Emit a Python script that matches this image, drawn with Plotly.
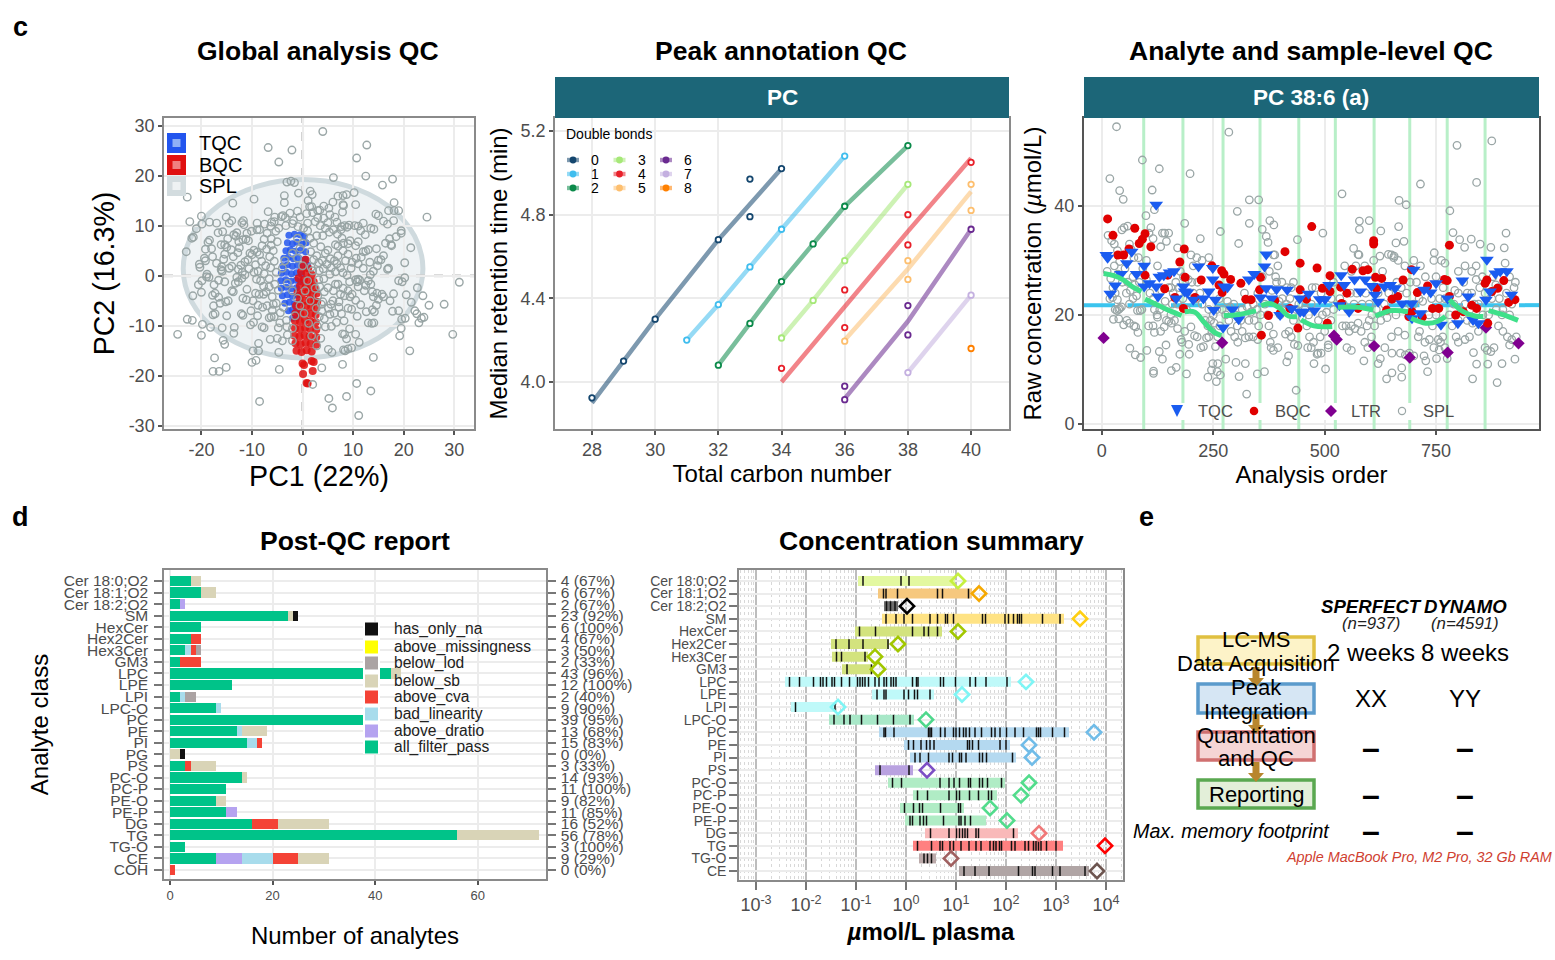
import plotly.graph_objects as go

W, H = 1555, 960
FONT = "Liberation Sans"
GREY = "#4d4d4d"
BORDER = "#8a8a8a"
GRID = "#ececec"

# ---------- Panel c1: PCA ----------
pca_spl = [(4,28.8),(-6.8,25.6),(-2.1,25.1),(-4.7,22.7),(12.7,26.1),(10.7,23.5),(12.5,19.9),(6.1,19.6),(17.8,19.3),(15.8,18.1),(-3.1,18.7),(-2.3,18.9),(-1.6,18.6),(-22.8,15.7),(-9.6,15.3),(-13.8,14.5),(24.6,11.7),(31,-1.3),(29.7,-11.7),(28,-5.7),(25,-5.9),(23.8,-4),(22.7,-2.4),(21.4,5.6),(20.2,2.6),(19.5,8.5),(18.1,14.6),(-24.7,-11.7),(-22.8,-8.7),(-21.8,-8.9),(-20,-11.9),(-19.8,-9.7),(-18.2,-10.3),(-17.4,-16.4),(-17.7,-19.1),(-16.5,-19.1),(-15.1,-18.3),(-10,-17.3),(-9.2,-16.9),(-8.5,-25.1),(-4.6,-18.7),(3.8,-18.4),(7.9,-17.7),(2,-21.7),(10.7,-21.5),(13.5,-23),(8.7,-24.1),(5.2,-24.5),(5.9,-26.4),(11.1,-27.9),(14,-16.3),(21.2,-15),(23,-9.4),(19.2,-12),(19.5,-10.5),(-15.7,-12.9),(-15.4,-13.7),(-13.6,-11.5),(-8.7,-13.5),(-9.8,-15),(-8.7,-15),(-4.7,-15.3),(5.1,-14.7),(5.8,-15.3),(8.4,-15),(9.7,-14.4),(11.2,-13.3),(10.5,-11.7),
(-22.3,10.8),(-21,9.4),(-20,11.9),(-19.9,10.3),(-18.4,10.7),(-17,10.5),(-16.7,8.6),(-15.1,11.7),(-14.5,10.5),(-14,11),(-15.8,8.8),(-14.8,7.4),(-13.6,8.2),(-13.2,7.9),(-13,8.6),(-12.6,6.8),(-11.8,7.2),(-11.2,7.3),(-10.7,7),(-21.9,7.5),(-21.6,7.7),(-18.7,6.7),(-18.4,7.1),(-23,4.8),(-16.1,6.2),(-15.4,6.2),(-15,5.7),(-14.1,5.2),(-12.8,4.6),(-13.7,3.8),(-15.4,4.3),(-17.8,3.8),(-19.4,3.5),(-19.2,3),(-20.4,2.3),(-20.3,1.7),(-16,1.8),(-16.1,1.2),(-15.9,0.9),(-14.5,1.5),(-14,1.9),(-12.7,1.3),(-12.2,2.1),(-11.4,2.8),(-10.8,3.2),(-10.4,4.5),(-10,4.2),(-9.6,5.1),(-9,4.7),(-8.5,4.2),(-8,6),(-7.6,7.3),(-10.1,8.9),(-9,9.2),(-8.5,9.2),(-11.7,11),(-11.6,10.2),(-12,10.6),(-6.8,12.8),(-5.5,11.7),(-4.2,11.8),(-3.9,12),(-3.4,11.6),(-2.5,12.5),(-1.8,11),(-1,12.9),(-0.5,11.7),(0.8,12.4),
(-18.9,0.3),(-18.5,-0.3),(-19,-0.2),(-20.6,-1.8),(-19.9,-1),(-20,-3.3),(-21.7,-4),(-17.5,-1.8),(-17.3,-3.5),(-17.8,-3.9),(-16.6,-4.3),(-16.3,-5.5),(-17.6,-6),(-17.3,-7.6),(-17.7,-7.8),(-15,-8),(-14.7,-5),(-15.2,-5.2),(-14,-3),(-13.7,-3.2),(-13,-0.3),(-12.7,-1.2),(-12,-0.5),(-11.4,0.2),(-10.6,1.4),(-9.6,0.7),(-9.1,-0.7),(-8.3,-1),(-7.6,0.4),(-11,-2.7),(-11.8,-4.5),(-11.1,-4.8),(-9.8,-5),(-9.3,-3.5),(-8.6,-3.7),(-7.7,-3.7),(-7.2,-3.2),(-6,-4.2),(-5.8,-5.7),(-5.2,-5.5),(-12.1,-7.6),(-11.8,-7.9),(-10.3,-9.8),(-9.7,-9.3),(-8.9,-8),(-8,-10.2),(-7.6,-10.4),(-6.6,-8.4),(-6.2,-8.2),(-5.6,-8.2),(-4.5,-9.4),(-4.8,-10.4),(-15.9,-10.4),(-13.5,-10.3),(-6.4,-12.7),(-5,-12.5),(-4,-13),(-3,-11.8),(-2,-13),
(-3.6,16),(-3.6,14.6),(-0.8,16.5),(1.5,16.9),(1.9,16.2),(1.1,15),(1.4,13.8),(1.8,13.8),(3,13),(3.4,13.1),(4.2,13.9),(5.2,13.5),(6,14.7),(7,15.9),(8,16),(8.7,16.2),(10.2,16.6),(8,14.2),(8.1,14),(10.5,14.2),(7.9,12.7),(5.4,12.2),(6.4,11.7),(-5.3,8.9),(-6.2,7.4),(-5,6.8),(-5.8,5),(-6.5,3.8),(-4.7,9.5),(-3.3,10),(-2,10.4),(-0.9,9.8),(1,10.5),(2.5,10.8),(3.5,10),(4.5,9.5),(5.3,8.7),(4,8),(2.8,8),(1.5,7.5),
(7.7,9.8),(8.3,10),(7.6,9.2),(8.8,9.7),(9.2,10.1),(10.3,10),(11,9.9),(11.5,9),(12.4,8.2),(12,10.5),(13.5,9.5),(14.1,9.3),(15,12),(14.5,12.3),(16,10.9),(16.8,10.3),(18,11),(19,13),(17,13),(18.1,13),(19.5,9),(17.2,7.4),(18.5,7.8),(16.4,6.5),(17.5,6.2),(17.6,6),(14.6,5.4),(16,4),(15.5,3.2),(15,3.1),(17,1.5),(16.8,1.3),(12.5,4.9),(12,4.8),(13,5.2),(10.5,6),(11,6.8),(9.4,7),(9,6.4),(8.1,6.5),(7,5.9),(6.5,6.2),(5,5.1),(4.5,4.5),(5.5,3.4),(6.3,3),(7,4),(8.5,3),(9.8,2.7),(9.6,1.5),(7.5,1.6),(6.5,0.8),(5.4,0.3),(4.2,-0.6),(3.3,1),(3.2,2.6),(2.8,4),(1.6,4.8),(1.7,1.7),(10.5,-0.8),(11,-0.7),(10.8,-1.2),(11.3,-0.9),(13.4,0.2),(13,-1),(13.5,-1.7),(13.8,-3.2),(14.7,-3.5),(14,-4.2),(15,-4.7),(15.7,-3.7),(16,-4.2),(17.3,-5),(18,-3.6),(19,-1),(19.7,-1.2),(20.2,-0.4),(20.5,-3.8),(21.5,-5.3),(22.2,-7),(22.6,-7.6),(23.5,-8.5),(24,-8.3),
(6.5,-1.7),(7,-1.7),(8,-2.5),(9,-3),(7.5,-3.7),(8.3,-4),(9.4,-4.2),(9.8,-3.7),(11,-2.2),(10.5,-4.9),(7.2,-5.2),(6,-5),(5.6,-5.7),(4,-5.2),(3.7,-5.7),(3.8,-7),(5.4,-7.7),(6.3,-7.5),(7.7,-7.6),(9,-6.5),(9.7,-6.7),(12.6,-7.2),(13.8,-6.8),(14.2,-7.2),(14.6,-5.9),(17.8,-7.1),(19,-7),(20.3,-8.5),(19.6,-8.7),(13,-9.4),(13.7,-9.5),(14.1,-9.4),(4.5,-10.2),(5.7,-10.1),(9.3,-10.6),(7.9,-11.6),(8.3,-11.7),(8.7,-12.6),(3.6,-12.5),(1.8,-12),(2.8,-14),(8.1,-14.8),(9,-14.6),
(-1,7.5),(0,6.5),(-0.5,5.5),(-2,4.5),(-1,3.5),(-3.5,3),(-4,1.5),(-3,-1.5),(-2,-3),(-1,-4.5),(-0.5,-6),(0.5,-3),(1,-1),(0,2),(2,1),(2.5,-2.5),(1.5,-5),(3,-4),(0.3,-7.5),(-1.5,-8),(1.2,-9.5),
(-9,10.5),(-7.5,10.3),(-6.3,9.9),(-5.6,10.8),(-7,8.5),(-6.2,6.1),(-7.1,5.3),(-8.1,2.9),(-7.3,2),(-6.3,1.6),(-5.6,2.9),(-5.2,0.7),(-6.6,-0.6),(-5.5,-1.7),(-4.8,-2.9),(-6.6,-2.2),(-3.8,-6.3),(-4.4,-7.4),(-3.2,-8.9),(-3.1,-10.2),(-2,-10.5),(3.2,-0.8),(4.1,1.4),(4.8,2.3),(5.7,1.6),(6.8,2.4),(8,0.6),(8.8,0.1),(9.3,-1.2),(6.1,-3),(5,-2.4),(4.3,-3.2),(3.4,-2.2),(2.7,-6.5),(3.3,-8.2),(2.9,-10),(4.3,-8.6),(5.1,-6.5),(6.7,-9.3),(7.2,-6.3),(8.2,-9),(10.8,-8.1),(11.5,-5.8),(12.2,-3),(12.5,-1.9),(12,1.5),(11,2.4),(10.6,3.5),(11.6,3.7),(13.3,2.7),(14,0.9),(14.8,2),(9,4.3),(8,5),(7.8,7.5),(6.9,8.3),(6.1,9.2),(6.8,10.7),(5,10.6),(4.2,11.5),(3,11.6),(2,12.6),(1,9),(0.2,9.5),(2.2,6.5),(3.6,5.8),(3.9,3),(2.2,3.2),(-11,8.5),(-12.5,5.6),(-11.9,0.7),(-13.3,-1.5),(-15.4,-1.2),(-16.6,-0.9),(-15.6,3.3),(-17,2.5),(-18,5.4),(-19.2,5.3),(-6.1,10.7),(-9.3,2.2),(-8.8,0.9),(-7.7,-2.1),(-8.8,-5.9),(-10.2,-7),(-7.9,-6.3),(-7,-6),(-6,-6.9)]
pca_tqc = [(-2.7,8.1),(-1.6,8.3),(-0.5,8.2),(0.3,7.9),(-3,6.6),(-2,6.4),(-1.1,6.7),(0,6.3),(0.7,6.6),(-3.3,5),(-2.4,5.2),(-1.4,4.9),(-0.4,5.1),(0.6,4.8),(-3.7,3.5),(-2.8,3.7),(-1.8,3.4),(-0.8,3.6),(0.5,3.3),(-3.9,2),(-3,2.2),(-2,1.9),(-1,2.1),(0,1.8),(1,2.1),(-4.2,0.5),(-3.2,0.7),(-2.2,0.4),(-1.2,0.6),(-0.2,0.3),(-4.3,-1),(-3.3,-0.8),(-2.3,-1.1),(-1.3,-0.9),(-0.5,-1.2),(-4.2,-2.5),(-3.2,-2.3),(-2.2,-2.6),(-1.2,-2.4),(-4,-4),(-3,-3.8),(-2,-4.1),(-1,-3.9),(-3.5,-5.5),(-2.6,-5.3),(-1.6,-5.6),(-0.8,-5.4),(-2.8,-7),(-2,-6.8),(-1.2,-7.1),(-2,-8.5),(-1.2,-8.3)]
pca_bqc = [(0.6,3.2),(0.2,2),(1.1,1.5),(-0.3,0.8),(0.8,0.5),(1.8,0.2),(-0.8,-0.5),(0.3,-0.8),(1.3,-1),(2.2,-1.2),(-0.5,-2),(0.6,-2.3),(1.6,-2.1),(2.5,-2.6),(-1,-3.4),(0,-3.6),(1,-3.3),(2,-3.7),(2.8,-3.5),(-0.6,-4.8),(0.4,-5),(1.4,-4.7),(2.3,-5),(2.9,-5.2),(-1.3,-6),(-0.3,-6.3),(0.7,-6),(1.7,-6.2),(2.7,-6.4),(-1.4,-7.5),(-0.4,-7.7),(0.6,-7.4),(1.6,-7.6),(2.6,-7.8),(-1.5,-9),(-0.5,-9.2),(0.5,-8.9),(1.5,-9.1),(2.6,-9.3),(-1.5,-10.5),(-0.5,-10.7),(0.5,-10.4),(1.5,-10.6),(2.7,-10.8),(-1.6,-12),(-0.6,-12.2),(0.4,-11.9),(1.4,-12.1),(2.7,-12.3),(-1.4,-13.5),(-0.4,-13.7),(0.6,-13.4),(1.6,-13.6),(2.7,-13.8),(-1.2,-15),(-0.2,-15.2),(0.8,-14.9),(1.8,-15.1),(0,-17.5),(0.3,-17.8),(1.8,-17),(2.2,-17.2),(0.1,-19.6),(2,-19),(1,-21.5),(0.8,-21.4)]
pca_xticks = [-20, -10, 0, 10, 20, 30]
pca_yticks = [-30, -20, -10, 0, 10, 20, 30]

# ---------- Panel c2: retention time ----------
db_names = ["0", "1", "2", "3", "4", "5", "6", "7", "8"]
db_colors = ["#14466e", "#3fbdee", "#0b8a4a", "#a6e878", "#e8202a", "#fdbf6f", "#6a2a90", "#c4b0e0", "#ff8000"]
db_line_x = [[28,29,30,32,33,34],[31,32,33,34,36],[32,33,34,35,36,38],[34,35,36,38],[34,36,38,40],[36,38,40],[36,38,40],[38,40],[]]
db_line_y = [[3.9,4.1,4.3,4.68,4.85,5.02],[4.2,4.37,4.55,4.73,5.08],[4.08,4.28,4.48,4.66,4.84,5.13],[4.21,4.39,4.58,4.945],[4.0,4.36,4.72,5.07],[4.2,4.54,4.91],[3.92,4.29,4.73],[4.045,4.415],[]]
db_pt_x = [[28,29,30,32,33,33,34],[31,32,33,34,36],[32,33,34,35,36,38],[34,35,36,38],[34,36,36,38,38,40],[36,38,38,40,40],[36,36,38,38,40],[38,40],[40]]
db_pt_y = [[3.924,4.10,4.30,4.68,4.97,4.79,5.02],[4.2,4.37,4.55,4.73,5.08],[4.08,4.28,4.48,4.66,4.84,5.13],[4.21,4.39,4.58,4.945],[4.065,4.44,4.26,4.80,4.655,5.05],[4.195,4.58,4.49,4.945,4.82],[3.98,3.915,4.365,4.225,4.73],[4.045,4.415],[4.16]]
rt_xticks = [28, 30, 32, 34, 36, 38, 40]
rt_yticks = [4.0, 4.4, 4.8, 5.2]

# ---------- Panel c3: run sequence ----------
seq_tqc = [(10,31),(13,30.5),(19,23.9),(30,25.4),(43,27.5),(56,29.5),(67,31.6),(78,27.5),(95,29),(95,25.2),(107,25.8),(122,40.2),(122,25.2),(126,23.4),(129,27),(139,27.3),(152,27.8),(162,28),(167,23),(183,25.2),(186,24.3),(192,24.1),(205,22.8),(217,28.9),(228,23),(240,24.3),(249,28.6),(249,26.5),(251,20.9),(255,22.8),(272,17.7),(274,25.2),(282,25.1),(293,21),(307,19.2),(330,26.5),(342,27.5),(356,23.2),(365,28.9),(369,31.1),(369,24.9),(381,23),(392,24.7),(400,20),(416,24.6),(426,21.2),(444,23),(445,20.6),(453,20.6),(464,23.9),(477,20.8),(489,22.9),(501,22.9),(510,25.5),(533,21.8),(537,27.3),(544,25.5),(555,20.6),(567,26.5),(580,24.3),(591,26.5),(605,25.3),(613,23.7),(620,22.4),(634,25.2),(647,25.5),(658,24.9),(674,22.1),(695,22.1),(696,19.4),(700,28.3),(715,20.3),(723,24.6),(738,24.1),(750,25.8),(761,18.2),(776,23),(799,18.5),(809,26.3),(822,23.4),(833,19.1),(845,18.5),(862,22.8),(864,30.1),(871,24.3),(883,27.6),(894,28),(909,28),(919,23.7)]
seq_bqc = [(13,37.6),(25,34.6),(36,31),(49,31),(61,32.1),(74,35.9),(84,33.1),(91,33.9),(97,34.9),(97,27.3),(110,32.5),(141,24.8),(148,27.3),(164,23.2),(175,29.7),(185,32.1),(187,26.9),(183,21.2),(209,23.2),(223,26.4),(247,29),(263,25.5),(269,28.1),(274,27.5),(270,24.1),(289,26.5),(312,25.8),(323,22.9),(335,22.8),(356,26.9),(354,24.6),(358,16.3),(374,19.9),(388,22.6),(400,20.3),(411,31.6),(422,21.2),(440,17.6),(445,29.5),(445,24.6),(459,22.9),(471,36.2),(483,28.6),(495,24.9),(506,18.5),(512,27.2),(512,24.3),(536,25.1),(538,22.1),(550,24),(562,28.4),(575,21.2),(586,28.1),(597,28.3),(610,33.6),(610,33),(614,26.9),(616,24.9),(628,26.7),(639,20.9),(651,22.9),(664,23.4),(676,26.4),(689,19.7),(696,20.6),(695,28.3),(708,24.1),(719,19.6),(731,25.3),(742,21.2),(756,21.2),(769,26.5),(775,26.3),(780,32.8),(780,23.4),(794,20),(811,20.6),(830,21.8),(841,21.2),(860,25.8),(864,26.4),(866,18.5),(875,24.3),(888,24.9),(902,26.3),(913,22.3),(927,22.8)]
seq_ltr = [(4,15.8),(270,14.9),(521,16.2),(527,15.5),(611,14.3),(691,12.2),(776,13.1),(862,17.7),(935,14.8)]
seq_spl = [(33,54.5),(91,48.4),(18,45),(129,46.8),(198,45.9),(40,42.8),(113,42.9),(48,41.2),(99,38.2),(118,39.3),(285,53.5),(331,41.1),(352,41.1),(304,39),(331,36.8),(377,37.3),(386,36.5),(539,42.2),(667,41),(683,40.2),(715,44),(797,51.1),(875,51.9),(841,44.3),(781,39.1),(578,37.2),(600,37.3),(788,35.1),(907,35),(496,35),(666,36.2),(626,35.4),(578,35.7),(266,35.3),(186,36.8),(221,34),(439,33.8),(360,35.7),(369,34.4),(373,33.3),(307,33.1),(678,33.5),(660,33.2),(803,33.8),(829,33.9),(849,33),(814,32.4),(873,32.4),(903,32.3),(565,32.2),(575,31.1),(577,31),(746,31.4),(643,31.1),(656,30.8),(624,30.8),
(436,6.2),(325,5.5),(887,7.6),(832,8.3),(639,8.3),(673,8.6),(308,8.7),(238,8.6),(257,7.8),(349,9.2),(365,9.6),(190,9.2),(116,9.7),(116,9.3),(156,9.8),(167,10.4),(502,10.1),(651,9.4),(673,10.3),(731,9.6),(866,11),(898,11.1),(841,11),(476,11.1),(415,11.4),(588,11.6),(620,11.1),(727,11.6),(751,12),(278,11.9),(301,11.3),(322,11.1),(927,11.9),(87,12.2),(75,12.7),(63,13.9),(101,13.5),(129,13.3),(175,12.8),(196,12.8),(136,11.9),(249,11.1),(260,11.1),(246,9.9),(259,9.6),(266,9),(483,12.8),(419,12.5),(651,13),(834,13.1),(873,13.3),(670,13),(681,12.7),(723,12.5),(757,13.6),
(14,34.6),(22,33.6),(28,33),(35,31.8),(40,29.8),(45,35.6),(50,36),(58,36.3),(62,33),(66,32),(72,30.5),(82,30.5),(20,26.7),(25,25),(30,24),(18,23),(24,23.2),(35,22.8),(40,21.2),(44,21.5),(30,21),(34,20.8),(38,21),(26,19.2),(38,19.3),(49,18.2),(56,19),(62,18.5),(72,18),(76,17.8),(81,16.8),(55,24),(62,22),(70,23),(80,20.8),(86,20.8),(90,21),(78,23.5),(70,27),(92,28.5),(100,30),(106,35),(110,36),(115,34),(125,29),(132,32.5),(136,35),(141,35),(145,33.5),(150,35),(155,25),(160,24),(170,32.3),(176,28),(183,27),(200,31),(205,29),(213,30.5),(225,30),(240,30.5),
(105,18),(115,18),(118,16.8),(125,19.6),(132,17),(140,17.8),(145,19),(150,18.8),(156,18.5),(163,19),(170,17.5),(178,15.5),(180,15),(186,17),(195,14.6),(200,17.8),(208,16.2),(214,16),(222,14),(228,14.2),(235,15.8),(240,16),(247,17),(255,14.2),(260,16),(144,14.5),(118,21),(130,21),(155,20),(170,22),(190,21),(205,24),(215,26),(225,22),(240,21),(250,20),(265,18),(270,21),(282,22.5),(290,17),(298,16),(305,15),(315,17),(322,15.8),(330,16),(340,16),(350,15.5),(352,18),(285,19),(300,20),(315,21),(330,19),(340,22),(350,24),(360,27),(376,28),(385,31),(388,31),(395,29),(390,27),(375,18),(385,16.5),(378,15),(380,14),(385,13.5),(395,14),(400,20),(410,21),(405,23),(415,25),(425,25),(420,17),(412,16.5),(425,16),(432,14.6),(440,14.4),(430,19),(450,19.5),(460,18),(466,16),(470,14),(462,14),(475,15),(490,16),(500,17),(508,14),(508,14.5),(485,13),(492,13),(470,22),(480,25),(495,20),(515,23),(520,26),(545,29),(560,28),(570,29),(590,29),(610,30),(630,28),(650,31),(655,30.5),(665,30),(680,29),(700,30),(715,29),
(540,18),(548,18),(555,17),(560,18),(568,17.5),(575,18.5),(582,17),(595,18),(605,16),(612,18),(590,15),(597,14),(550,14),(560,13.5),(625,12),(635,14),(650,16),(665,17),(680,16.3),(690,13),(700,12.5),(710,16),(725,15),(735,15.5),(745,14),(755,15.5),(765,16),(770,14),(775,12),(713,17),(760,15),(600,22),(620,24),(640,19.5),(660,20),(680,21),(700,22),(720,22.5),(740,23),(750,27),(762,30),(770,29.5),(745,30),(770,23),(790,22),(800,24),(815,22),(830,24),(845,22),(860,24),(875,23),(890,25),(900,21),(915,20),(925,25),(915,27),(905,29.5),(830,28),(840,29),(815,29),(800,28),(840,26.5),(795,16),(800,15),(815,15.5),(825,16),(832,18.5),(845,17),(860,14),(865,13.5),(880,14),(890,18),(900,17),(910,16),(920,15.5),(930,16),(915,14.5),(800,19),(820,19),(855,20),(885,21),
(12,28),(28,29),(36,27.5),(46,26),(52,28.5),(58,26),(64,24.5),(74,25.5),(84,26),(100,26.5),(108,24),(116,23),(124,20),(134,24.5),(142,22.5),(150,25),(158,22),(166,26),(174,25),(182,23),(194,26.5),(202,26),(212,23),(220,24),(232,19),(238,18),(244,19),(252,18.5),(258,21),(264,23),(278,20),(288,21.5),(296,22),(304,18),(312,19),(320,24),(326,21.5),(334,20.5),(342,19),(348,21),(356,20),(366,22),(372,20),(382,24.5),(392,26),(398,22.5),(404,26),(414,22),(422,23),(430,26),(436,21),(442,22),(456,21),(464,20),(472,25),(486,19),(492,24),(504,20.5),(514,19),(520,21),(534,23),(542,22),(552,21),(558,24),(566,22),(572,24),(584,22),(592,24),(600,19),(606,20),(616,21),(626,19),(634,22),(644,24),(654,23),(662,26),(672,25),(684,24),(692,26),(706,26),(712,23),(726,27),(734,20),(742,18),(750,20),(758,23),(766,25),(780,20),(786,18),(792,24.5),(806,21),(812,26),(820,24),(826,21),(836,22),(848,25),(854,27),(868,20),(878,27),(884,25.5),(892,23),(898,20),(908,24),(920,22),(928,26)]
batch_bounds = [94, 182, 272, 355, 442, 524, 611, 691, 775, 860]
batch_trends = [
    [(4,27.6),(27,27.2),(49,26.4),(68,25.2),(89,24.3)],
    [(97,22.9),(126,21.8),(152,20.8),(179,19.9)],
    [(186,20.6),(209,20.5),(228,18.8),(251,16.9),(268,16.2)],
    [(274,19.9),(308,20.1),(346,20.8)],
    [(358,21.7),(377,22.1),(400,21.2),(419,19.8),(438,19.7)],
    [(447,19.1),(476,18),(517,17.9)],
    [(530,21.4),(575,21.4),(609,20.9)],
    [(614,19.8),(651,20.8),(687,20.6)],
    [(694,19.4),(727,18.5),(753,18.8),(771,19.7)],
    [(780,22.8),(811,20.6),(837,19.8),(856,19.7)],
    [(868,20.8),(902,20),(934,19)],
]
median_level = 21.8
seq_xticks = [0, 250, 500, 750]
seq_yticks = [0, 20, 40]

# ---------- Panel d1: post-QC report ----------
report_classes = ["Cer 18:0;O2","Cer 18:1;O2","Cer 18:2;O2","SM","HexCer","Hex2Cer","Hex3Cer","GM3","LPC","LPE","LPI","LPC-O","PC","PE","PI","PG","PS","PC-O","PC-P","PE-O","PE-P","DG","TG","TG-O","CE","COH"]
all_filter_pass = [4,6,2,23,6,4,3,2,43,12,2,9,39,13,15,0,3,14,11,9,11,16,56,3,9,0]
above_dratio    = [0,0,1,0,0,0,0,0,0,0,0,0,0,0,0,0,0,0,0,0,2,0,0,0,5,0]
bad_linearity   = [0,0,0,0,0,0,1,0,0,0,1,1,2,1,2,0,0,0,0,0,0,0,0,0,6,0]
above_cva       = [0,0,0,0,0,2,1,4,0,0,0,0,0,0,1,0,1,0,0,0,0,5,0,0,5,1]
below_sb        = [2,3,0,1,0,0,0,0,2,0,0,0,0,5,0,2,5,1,0,2,0,10,16,0,6,0]
above_missing   = [0]*26
below_lod       = [0,0,0,0,0,0,1,0,0,0,2,0,0,0,0,0,0,0,0,0,0,0,0,0,0,0]
has_only_na     = [0,0,0,1,0,0,0,0,0,0,0,0,0,0,0,1,0,0,0,0,0,0,0,0,0,0]
report_right = ["4 (67%)","6 (67%)","2 (67%)","23 (92%)","6 (100%)","4 (67%)","3 (50%)","2 (33%)","43 (96%)","12 (100%)","2 (40%)","9 (90%)","39 (95%)","13 (68%)","15 (83%)","0 (0%)","3 (33%)","14 (93%)","11 (100%)","9 (82%)","11 (85%)","16 (52%)","56 (78%)","3 (100%)","9 (29%)","0 (0%)"]
report_series = [("all_filter_pass",all_filter_pass,"#00c389"),("above_dratio",above_dratio,"#b5a3f0"),("bad_linearity",bad_linearity,"#a8dcec"),("above_cva",above_cva,"#f44336"),("below_sb",below_sb,"#d9d4b7"),("below_lod",below_lod,"#aba3a3"),("above_missingness",above_missing,"#ffff00"),("has_only_na",has_only_na,"#111111")]
report_legend = ["has_only_na","above_missingness","below_lod","below_sb","above_cva","bad_linearity","above_dratio","all_filter_pass"]
report_xticks = [0, 20, 40, 60]

# ---------- Panel d2: concentration summary (log10 umol/L) ----------
conc_classes = ["Cer 18:0;O2","Cer 18:1;O2","Cer 18:2;O2","SM","HexCer","Hex2Cer","Hex3Cer","GM3","LPC","LPE","LPI","LPC-O","PC","PE","PI","PS","PC-O","PC-P","PE-O","PE-P","DG","TG","TG-O","CE"]
conc_low  = [-0.96,-0.56,-0.44,-0.48,-1.02,-1.5,-1.48,-1.28,-2.42,-0.68,-2.3,-1.54,-0.54,-0.04,0.08,-0.62,-0.36,0.14,-0.12,-0.02,0.38,0.14,0.26,1.06]
conc_high = [0.98,1.32,-0.16,3.16,0.72,-0.34,-0.76,-0.68,2.1,0.56,-1.42,0.16,3.26,2.08,2.2,0.14,1.98,1.82,1.16,1.6,2.24,3.14,0.6,3.66]
conc_total = [1.04,1.46,0.02,3.48,1.04,-0.16,-0.62,-0.56,2.4,1.12,-1.36,0.4,3.76,2.46,2.52,0.42,2.46,2.3,1.68,2.02,2.66,3.98,0.9,3.82]
conc_band_colors = ["#e3f8a0","#f6c87e","#6e6e6e","#ffe384","#d3e37e","#d3e37e","#d3e37e","#d3e37e","#bff9f9","#bff9f9","#bff9f9","#a8e8c8","#b4d9f0","#b4d9f0","#b4d9f0","#b9a2e0","#b0ecc5","#b0ecc5","#b0ecc5","#b0ecc5","#f9b9b9","#ff8080","#bcaaaa","#b0a5a5"]
conc_mark_colors = ["#c6f03f","#f5a800","#000000","#ffcf12","#a2c700","#a2c700","#a2c700","#a2c700","#7ff5f5","#7ff5f5","#7ff5f5","#4ed88c","#70bce8","#70bce8","#70bce8","#7c4fc4","#52dc8c","#52dc8c","#52dc8c","#52dc8c","#f07878","#ff0000","#a06060","#6d5550"]
conc_species = [
 [-0.86,-0.10,0.06],
 [-0.45,-0.40,-0.17,0.63,0.73,1.25],
 [-0.39,-0.31,-0.22],
 [-0.40,-0.20,-0.04,0.13,0.48,0.63,0.79,0.83,0.95,1.53,1.59,1.98,2.05,2.15,2.23,2.27,2.31,2.73,3.08],
 [-0.93,-0.61,0.13,0.36,0.45,0.63],
 [-1.40,-1.14,-0.86,-0.36],
 [-1.39,-1.29,-0.82],
 [-1.18,-0.69],
 [-2.33,-2.13,-1.85,-1.71,-1.66,-1.59,-1.48,-1.43,-1.29,-1.13,-0.97,-0.92,-0.87,-0.82,-0.75,-0.62,-0.54,-0.44,-0.39,-0.30,-0.25,-0.20,0.13,0.21,0.24,0.69,0.75,0.99,1.28,1.39,1.6,2.02],
 [-0.58,-0.44,-0.40,-0.04,0.05,0.17,0.23,0.48],
 [-2.21,-1.42],
 [-1.44,-1.24,-1.12,-0.89,-0.57,-0.25,0.08],
 [-0.44,-0.41,-0.24,0.45,0.48,0.51,0.69,0.78,0.95,1,1.07,1.15,1.2,1.27,1.38,1.51,1.71,1.78,1.88,2.01,2.18,2.35,2.61,2.65,2.69,2.93,3.17],
 [0.05,0.15,0.30,0.41,0.48,0.56,1.23,1.27,1.33,1.45,1.88,2.0],
 [0.18,0.28,0.45,0.86,0.93,1.07,1.11,1.2,1.47,1.53,1.61,2.13],
 [-0.52,0.06],
 [-0.27,-0.09,0.68,0.86,0.96,1.07,1.25,1.29,1.47,1.53,1.63,1.91],
 [0.23,0.43,0.86,1.01,1.07,1.27,1.45,1.65,1.71],
 [-0.03,0.15,0.27,0.33,0.69,1.05,1.09],
 [0.08,0.13,0.28,0.35,0.41,0.75,1.06,1.1,1.18,1.29],
 [0.49,0.86,1.01,1.07,1.13,1.18,1.23,1.4,1.45,2.15],
 [0.23,0.51,0.68,0.73,0.88,0.95,1.1,1.26,1.4,1.5,1.68,1.75,1.8,1.87,1.91,2.11,2.18,2.38,2.45,2.55,2.6,2.65,2.7,2.81,3.0],
 [0.36,0.43,0.51],
 [1.16,1.38,1.66,2.25,2.53,2.58,2.93,3.08,3.58],
]
conc_xticks = [-3, -2, -1, 0, 1, 2, 3, 4]

# ---------- Panel e ----------
steps = [["LC-MS","Data Acquisition"],["Peak","Integration"],["Quantitation","and QC"],["Reporting"]]
step_border = ["#e0c040","#5b9bcc","#d07070","#5aa850"]
step_fill = ["#fdf3c8","#d6e6f4","#f5d5d5","#e3efd9"]
tools = ["SPERFECT","DYNAMO"]
tool_n = ["(n=937)","(n=4591)"]
tool_time = ["2 weeks","8 weeks"]
tool_xx = ["XX","YY"]

# ---------- helpers ----------
def fx(p): return p / W
def fy(p): return 1 - p / H
def dx(l, r): return [l / W, r / W]
def dy(t, b): return [1 - b / H, 1 - t / H]
xs = lambda pts: [p[0] for p in pts]
ys = lambda pts: [p[1] for p in pts]

annots, shapes = [], []
def text(x, y, s, size, color="#000000", anchor="center", bold=False, italic=False):
    if italic: s = f"<i>{s}</i>"
    if bold: s = f"<b>{s}</b>"
    annots.append(dict(x=fx(x), y=fy(y), xref="paper", yref="paper", text=s, showarrow=False,
                       xanchor=anchor, yanchor="middle", borderpad=0, borderwidth=0,
                       font=dict(family=FONT, size=size, color=color)))
def rect(x0, y0, x1, y1, fill, line=None, lw=0, opacity=1):
    shapes.append(dict(type="rect", xref="paper", yref="paper", x0=fx(x0), x1=fx(x1), y0=fy(y0), y1=fy(y1),
                       fillcolor=fill, line=dict(color=line or fill, width=lw), opacity=opacity, layer="above"))
def disc(x, y, r, fill, line=None, lw=0):
    shapes.append(dict(type="circle", xref="paper", yref="paper", x0=fx(x-r), x1=fx(x+r), y0=fy(y-r), y1=fy(y+r),
                       fillcolor=fill, line=dict(color=line or fill, width=lw), layer="above"))
def poly(pts, fill):
    path = "M " + " L ".join(f"{fx(a):.5f} {fy(b):.5f}" for a, b in pts) + " Z"
    shapes.append(dict(type="path", xref="paper", yref="paper", path=path, fillcolor=fill,
                       line=dict(color=fill, width=0), layer="above"))

def axis(domain, size=18, tick_color=GREY, border=BORDER, lw=1.5, ticklen=4, tickcolor="#555555", tickwidth=1.5, **kw):
    base = dict(domain=domain, showline=True, mirror=True, linecolor=border, linewidth=lw, ticks="outside",
                ticklen=ticklen, tickwidth=tickwidth, tickcolor=tickcolor, gridcolor=GRID, gridwidth=1.5, zeroline=False,
                tickfont=dict(family=FONT, size=size, color=tick_color))
    base.update(kw)
    return base
def title(s, size, standoff):
    return dict(text=s, font=dict(family=FONT, size=size, color="#000000"), standoff=standoff)

fig = go.Figure()

# --- PCA
fig.add_trace(go.Scatter(x=xs(pca_tqc), y=ys(pca_tqc), mode="markers", name="TQC", xaxis="x", yaxis="y",
                         marker=dict(color="rgba(34,85,238,0.85)", size=7)))
fig.add_trace(go.Scatter(x=xs(pca_bqc), y=ys(pca_bqc), mode="markers", name="BQC", xaxis="x", yaxis="y",
                         marker=dict(color="rgba(224,16,16,0.85)", size=8)))
fig.add_trace(go.Scatter(x=xs(pca_spl), y=ys(pca_spl), mode="markers", name="SPL", xaxis="x", yaxis="y",
                         marker=dict(symbol="circle-open", color="rgba(150,162,162,0.95)", size=7.5, line=dict(width=1.4))))
shapes.append(dict(type="circle", xref="x", yref="y", x0=-23.6, x1=23.8, y0=-16.4, y1=19.2, layer="below",
                   fillcolor="rgba(214,226,230,0.4)", line=dict(color="#cfdade", width=5)))
shapes.append(dict(type="line", xref="x", yref="y", x0=-27.4, x1=33.9, y0=0, y1=0, layer="below",
                   line=dict(color="#d0d0d0", width=3, dash="dash")))
shapes.append(dict(type="line", xref="x", yref="y", x0=0, x1=0, y0=-30.6, y1=31.5, layer="below",
                   line=dict(color="#d0d0d0", width=3, dash="dash")))

# --- Retention time
for i, name in enumerate(db_names):
    if db_line_x[i]:
        fig.add_trace(go.Scatter(x=db_line_x[i], y=db_line_y[i], mode="lines", name=name, xaxis="x2", yaxis="y2",
                                 opacity=0.55, line=dict(color=db_colors[i], width=4.5)))
    fig.add_trace(go.Scatter(x=db_pt_x[i], y=db_pt_y[i], mode="markers", name=name, xaxis="x2", yaxis="y2",
                             marker=dict(color="white", size=5.5, line=dict(color=db_colors[i], width=1.8))))

# --- Run sequence
fig.add_trace(go.Scatter(x=[v for b in batch_bounds for v in (b, b, None)],
                         y=[v for b in batch_bounds for v in (-0.9, 56.1, None)], mode="lines", name="batch",
                         xaxis="x3", yaxis="y3", line=dict(color="#b8efc8", width=3)))
fig.add_trace(go.Scatter(x=[-40, 981], y=[median_level, median_level], mode="lines", name="median",
                         xaxis="x3", yaxis="y3", line=dict(color="#3bc4ee", width=4, dash="31px,12.5px")))
fig.add_trace(go.Scatter(x=xs(seq_spl), y=ys(seq_spl), mode="markers", name="SPL", xaxis="x3", yaxis="y3",
                         marker=dict(symbol="circle-open", color="#9aa6a6", size=7.5, line=dict(width=1.3))))
fig.add_trace(go.Scatter(x=xs(seq_ltr), y=ys(seq_ltr), mode="markers", name="LTR", xaxis="x3", yaxis="y3",
                         marker=dict(symbol="diamond", color="#800090", size=9.5)))
fig.add_trace(go.Scatter(x=xs(seq_bqc), y=ys(seq_bqc), mode="markers", name="BQC", xaxis="x3", yaxis="y3",
                         marker=dict(color="#e00000", size=9)))
fig.add_trace(go.Scatter(x=xs(seq_tqc), y=ys(seq_tqc), mode="markers", name="TQC", xaxis="x3", yaxis="y3",
                         marker=dict(symbol="triangle-down", color="#1a5cf0", size=12)))
for seg in batch_trends:
    fig.add_trace(go.Scatter(x=xs(seg), y=ys(seg), mode="lines", name="trend", xaxis="x3", yaxis="y3",
                             line=dict(color="#3fe08a", width=5, shape="spline")))

# --- Post-QC report
for name, vals, col in report_series:
    fig.add_trace(go.Bar(y=report_classes, x=vals, orientation="h", name=name, marker=dict(color=col, line=dict(width=0)),
                         width=0.88, xaxis="x4", yaxis="y4"))
fig.add_trace(go.Scatter(x=[0]*26, y=report_classes, mode="markers", marker=dict(opacity=0), xaxis="x4", yaxis="y6",
                         name="labels", hoverinfo="skip"))

# --- Concentration summary
for i, c in enumerate(conc_classes):
    fig.add_trace(go.Scatter(x=[10**conc_low[i], 10**conc_high[i]], y=[c, c], mode="lines", name=c, xaxis="x5", yaxis="y5",
                             line=dict(color=conc_band_colors[i], width=10)))
fig.add_trace(go.Scatter(x=[10**v for row in conc_species for v in row],
                         y=[c for c, row in zip(conc_classes, conc_species) for _ in row], mode="markers", name="species",
                         xaxis="x5", yaxis="y5",
                         marker=dict(symbol="line-ns", size=7, color="black", line=dict(color="#111111", width=1.5))))
fig.add_trace(go.Scatter(x=[10**v for v in conc_total], y=conc_classes, mode="markers", name="total", xaxis="x5", yaxis="y5",
                         marker=dict(symbol="diamond-open", size=11, color=conc_mark_colors, line=dict(width=2.6, color=conc_mark_colors))))

# --- Headings
text(20, 27, "c", 27, bold=True); text(20, 517, "d", 27, bold=True); text(1146, 517, "e", 27, bold=True)
text(318, 51, "Global analysis QC", 26.5, bold=True)
text(781, 51, "Peak annotation QC", 26.5, bold=True)
text(1311, 51, "Analyte and sample-level QC", 26.5, bold=True)
text(355, 541, "Post-QC report", 26.5, bold=True)
text(931, 541, "Concentration summary", 26.5, bold=True)

# strips
STRIP = "#1c6678"
rect(555, 77, 1009, 118, STRIP); text(782, 97, "PC", 22.5, "#ffffff", bold=True)
rect(1084, 77, 1539, 118, STRIP); text(1311, 97, "PC 38:6 (a)", 22.5, "#ffffff", bold=True)

# legend PCA
for yy, label, c, c2 in [(143, "TQC", "#2255ee", "#8fb0f6"), (165, "BQC", "#e01010", "#f08080"), (186, "SPL", "#d3dcdf", "#eef2f3")]:
    rect(167, yy-10, 186, yy+10, c)
    rect(172.5, yy-4, 180.5, yy+4, c2)
    text(199, yy, label, 20, anchor="left")

# legend RT
text(566, 134, "Double bonds", 14, anchor="left")
for i, name in enumerate(db_names):
    col, row = i // 3, i % 3
    kx, ky = 573 + col * 46.5, 160 + row * 14
    rect(kx-6, ky-2.2, kx+6, ky+2.2, db_colors[i], opacity=0.55)
    disc(kx, ky, 3.4, db_colors[i])
    text(kx+22, ky, name, 14)

# legend run sequence
for kx in (1177, 1254, 1331, 1402):
    rect(kx-10, 403, kx+10, 420, "#ffffff")
poly([(1171, 405), (1183, 405), (1177, 417)], "#1a5cf0")
disc(1254, 411, 4.3, "#e00000")
poly([(1331, 405), (1337, 411), (1331, 417), (1325, 411)], "#800090")
disc(1402, 411, 3.6, "#ffffff", "#9aa6a6", 1.2)
for tx, label in [(1198, "TQC"), (1275, "BQC"), (1351, "LTR"), (1423, "SPL")]:
    text(tx, 411, label, 16.5, GREY, anchor="left")

# legend report
legend_colors = {n: c for n, _, c in report_series}
rect(363, 622, 380, 754, "#ffffff")
for name, yy in zip(report_legend, [629, 647, 663, 681, 697, 714, 731, 747]):
    rect(365, yy-6.5, 378, yy+6.5, legend_colors[name])
    text(394, yy, name, 15.6, "#222222", anchor="left")

# panel e
for (t, b), bc, fc in zip([(637, 664), (684, 713), (732, 760), (780, 808)], step_border, step_fill):
    rect(1198, t, 1314, b, fc, bc, 3.5)
for y0 in (667, 714, 762):
    poly([(1252.5, y0), (1259.5, y0), (1259.5, y0+11), (1264, y0+11), (1256, y0+20), (1248, y0+11), (1252.5, y0+11)], "#b8862d")
for lines, ycs in zip(steps, [(639, 663), (687, 711), (735, 758), (794,)]):
    for s, yy in zip(lines, ycs):
        text(1256, yy, s, 22)
for i, xc in enumerate((1371, 1465)):
    text(xc, 606, tools[i], 18.6, bold=True, italic=True)
    text(xc, 623, tool_n[i], 16.8, "#222222", italic=True)
    text(xc, 652, tool_time[i], 24)
    text(xc, 698, tool_xx[i], 24)
    for yy in (748, 795, 831):
        text(xc, yy, "\u2013", 32, bold=True)
text(1133, 831, "Max. memory footprint", 19.7, anchor="left", italic=True)
text(1286, 857, "Apple MacBook Pro, M2 Pro, 32 Gb RAM", 14.4, "#cf4030", anchor="left", italic=True)

layout = dict(
    width=W, height=H, autosize=False, margin=dict(l=0, r=0, t=0, b=0, autoexpand=False), showlegend=False, barmode="stack",
    paper_bgcolor="white", plot_bgcolor="white", font=dict(family=FONT),
    annotations=annots, shapes=shapes,
    xaxis=axis(dx(164, 474), anchor="y", range=[-27.4, 33.9], tickmode="array", tickvals=pca_xticks, ticktext=[str(v) for v in pca_xticks], title=title("PC1 (22%)", 28.6, 1)),
    yaxis=axis(dy(118, 429), anchor="x", range=[-30.6, 31.5], tickmode="array", tickvals=pca_yticks, ticktext=[str(v) for v in pca_yticks], title=title("PC2 (16.3%)", 28.6, 6)),
    xaxis2=axis(dx(555, 1009), anchor="y2", range=[26.83, 41.2], tickvals=rt_xticks, title=title("Total carbon number", 24, 2)),
    yaxis2=axis(dy(118, 429), anchor="x2", range=[3.775, 5.262], tickvals=rt_yticks, tickformat=".1f", title=title("Median retention time (min)", 24, 6)),
    xaxis3=axis(dx(1084, 1539), anchor="y3", range=[-40, 981], tickvals=seq_xticks, border="#555555", lw=2, title=title("Analysis order", 24, 2)),
    yaxis3=axis(dy(118, 429), anchor="x3", range=[-0.9, 56.1], tickvals=seq_yticks, border="#555555", lw=2, title=title("Raw concentration (<i>\u00b5</i>mol/L)", 24, 6)),
    xaxis4=axis(dx(164, 546), size=13, anchor="y4", range=[-1.17, 73.3], tickvals=report_xticks, title=title("Number of analytes", 24, 25)),
    yaxis4=axis(dy(570, 879), size=15.5, ticklen=8, tickwidth=2, ticklabelstandoff=3, tickcolor="#777777", anchor="x4", type="category", categoryorder="array", categoryarray=report_classes,
                range=[25.78, -0.95], tickmode="array", tickvals=report_classes, ticktext=report_classes, title=title("Analyte class", 24, 8)),
    yaxis6=axis(dy(570, 879), size=15.5, ticklen=8, tickwidth=2, ticklabelstandoff=2, tickcolor="#777777", anchor="x4", overlaying="y4", side="right", type="category", categoryorder="array",
                categoryarray=report_classes, range=[25.78, -0.95], tickmode="array", tickvals=report_classes, ticktext=report_right, showgrid=False),
    xaxis5=axis(dx(739, 1123), size=18, ticklen=8, tickwidth=2, tickcolor="#777777", anchor="y5", type="log", range=[-3.34, 4.34],
                tickvals=[10**v for v in conc_xticks], ticktext=[f"10<sup>{v}</sup>" for v in conc_xticks],
                gridcolor="#bdbdbd",
                minor=dict(showgrid=True, griddash="dot", gridcolor="#d8d8d8", gridwidth=1, dtick="D1", ticks=""),
                title=title("<b><i>\u00b5</i>mol/L plasma</b>", 24, 9)),
    yaxis5=axis(dy(570, 880), size=14, ticklen=8, tickwidth=2, tickcolor="#777777", anchor="x5", type="category", categoryorder="array", categoryarray=conc_classes,
                range=[23.71, -0.87], tickmode="array", tickvals=conc_classes, ticktext=conc_classes),
)
fig.update_layout(**layout)
fig.write_html("out.html", config={"displayModeBar": False},
               post_script="document.body.style.margin='0';document.body.style.overflow='hidden';")
